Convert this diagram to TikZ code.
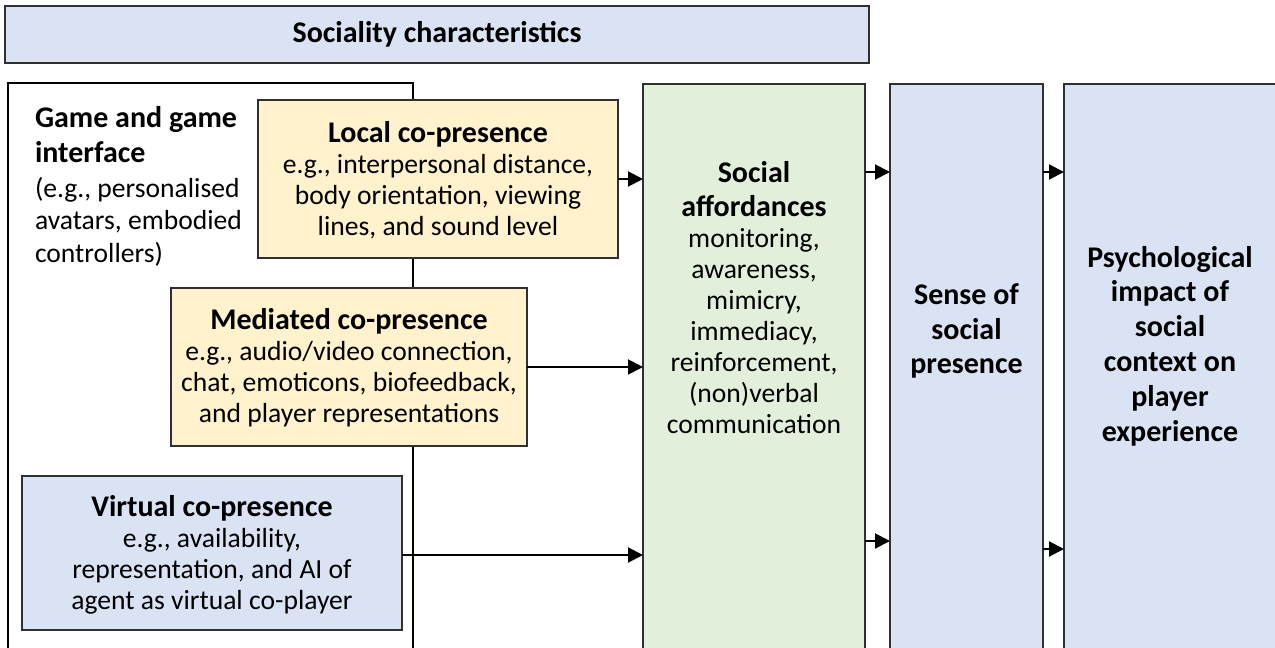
\documentclass[tikz,border=0pt]{standalone}
\usepackage{fontspec}
\setmainfont{Carlito}
\usetikzlibrary{arrows.meta}
\definecolor{bluefill}{HTML}{DAE3F3}
\definecolor{yellowfill}{HTML}{FFF2CC}
\definecolor{greenfill}{HTML}{E2EFDA}
\definecolor{edgecol}{HTML}{303030}
\newcommand{\hdfont}{\fontsize{30}{31}\selectfont\bfseries}
\tikzset{
  box/.style={draw=edgecol, line width=1.3pt, rectangle, inner sep=0pt, outer sep=0pt, anchor=north west},
  conn/.style={line width=2pt, -{Triangle[length=15pt,width=15pt]}},
  body/.style={font=\fontsize{27.6}{31}\selectfont, align=center},
  txt/.style={inner sep=0pt, outer sep=0pt},
}
\begin{document}
\begin{tikzpicture}[x=1pt,y=-1pt]
\useasboundingbox (0,0) rectangle (1275,648);
\clip (0,0) rectangle (1275,648);
% header
\node[box, fill=bluefill, minimum width=864pt, minimum height=57pt] (head) at (5,6) {};
\node[txt, font=\hdfont] (headtxt) at (head.center) {Sociality characteristics};
% game frame
\node[box, draw=black, line width=2pt, minimum width=405pt, minimum height=620pt] (game) at (8,83) {};
\node[txt, anchor=north west, align=left, font=\fontsize{27.6}{32.5}\selectfont] (gametxt) at (35,106)
  {{\hdfont Game and game}\\[3pt]{\hdfont interface}\\[2pt](e.g., personalised\\avatars, embodied\\controllers)};
% co-presence boxes
\node[box, fill=yellowfill, minimum width=360pt, minimum height=158pt] (local) at (258,100) {};
\node[txt, body] (localtxt) at ([yshift=-1.5pt]local.center) {{\hdfont Local co-presence}\\e.g., interpersonal distance,\\body orientation, viewing\\lines, and sound level};
\node[box, fill=yellowfill, minimum width=356pt, minimum height=158pt] (med) at (171,288) {};
\node[txt, body] (medtxt) at ([yshift=-1pt]med.center) {{\hdfont Mediated co-presence}\\e.g., audio/video connection,\\chat, emoticons, biofeedback,\\and player representations};
\node[box, fill=bluefill, minimum width=380pt, minimum height=154pt] (virt) at (22,476) {};
\node[txt, body] (virttxt) at ([yshift=-1.5pt]virt.center) {{\hdfont Virtual co-presence}\\e.g., availability,\\representation, and AI of\\agent as virtual co-player};
% right columns
\node[box, fill=greenfill, minimum width=222pt, minimum height=620pt] (green) at (643,84) {};
\node[txt, body, anchor=center] (greentxt) at (754,298) {{\hdfont Social}\\[3pt]{\hdfont affordances}\\monitoring,\\awareness,\\mimicry,\\immediacy,\\reinforcement,\\(non)verbal\\communication};
\node[box, fill=bluefill, minimum width=153pt, minimum height=620pt] (sense) at (890,84) {};
\node[txt, align=center, font=\fontsize{30}{34.5}\selectfont\bfseries] (sensetxt) at (966.5,331) {Sense of\\social\\presence};
\node[box, fill=bluefill, minimum width=260pt, minimum height=620pt] (psych) at (1064,84) {};
\node[txt, align=center, font=\fontsize{30}{34.8}\selectfont\bfseries] (psychtxt) at (1170,346) {Psychological\\impact of\\social\\context on\\player\\experience};
% arrow heights
\coordinate (y1) at (0,172);
\coordinate (y2) at (0,541);
\coordinate (y3) at (0,549);
\coordinate (y4) at (0,555);
% connectors
\draw[conn] (local.east) -- (local.east -| green.west);
\draw[conn] (med.east) -- (med.east -| green.west);
\draw[conn] (virt.east |- y4) -- (green.west |- y4);
\draw[conn] (green.east |- y1) -- (sense.west |- y1);
\draw[conn] (green.east |- y2) -- (sense.west |- y2);
\draw[conn] (sense.east |- y1) -- (psych.west |- y1);
\draw[conn] (sense.east |- y3) -- (psych.west |- y3);
\end{tikzpicture}
\end{document}
